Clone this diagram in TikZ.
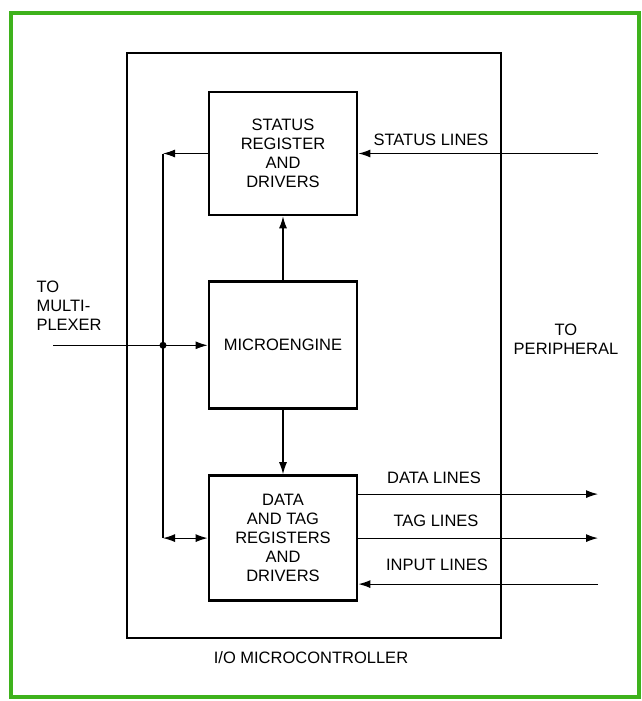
\documentclass[tikz,border=0pt]{standalone}
\usepackage{fontspec}
\setmainfont{Liberation Sans}
\usetikzlibrary{arrows.meta,positioning,calc}

\definecolor{framegreen}{RGB}{62,178,28}

\tikzset{
  blockbox/.style={draw, line width=2.8pt, minimum width=148pt, minimum height=125pt, align=center, inner sep=0pt},
  sigline/.style={line width=1.1pt},
  sigarrow/.style={sigline, -{Latex[length=12pt,width=8pt]}},
  twoway/.style={sigline, {Latex[length=12pt,width=8pt]}-{Latex[length=12pt,width=8pt]}}
}

\begin{document}
\begin{tikzpicture}[x=1pt, y=-1pt, node distance=64pt, every node/.style={font=\fontsize{16.5}{19}\selectfont}]
  \useasboundingbox (0,0) rectangle (641,701);
  \draw[framegreen, line width=3.2pt] (11,13) rectangle (639,697);

  \node[draw, line width=2.2pt, minimum width=374pt, minimum height=585pt] (ioctrl) at (314,345.5) {};
  \node (iolbl) at (311,658) {I/O MICROCONTROLLER};

  \node[blockbox, minimum height=123pt] (status) at (283,153.5) {STATUS\\REGISTER\\AND\\DRIVERS};
  \node[blockbox, below=of status, minimum height=127pt] (micro) {MICROENGINE};
  \node[blockbox, below=of micro] (data) {DATA\\AND TAG\\REGISTERS\\AND\\DRIVERS};

  \coordinate (bus) at (163,0);
  \coordinate (mux) at (53,0);
  \coordinate (periph) at (598,0);
  \coordinate (bustop) at (status.west -| bus);
  \coordinate (busbot) at (data.west -| bus);
  \coordinate (junction) at (micro.west -| bus);

  \draw[sigarrow] (status.west) -- (bustop);
  \draw[sigline] (bustop) -- (busbot);
  \draw[twoway] (busbot) -- (data.west);
  \draw[sigarrow] (micro.west -| mux) -- (micro.west);
  \fill (junction) circle (3.5pt);

  \draw[sigarrow] (micro.north) -- (status.south);
  \draw[sigarrow] (micro.south) -- (data.north);

  \draw[sigarrow] (status.east -| periph) -- (status.east);
  \draw[sigarrow] ([yshift=44pt]data.east) -- ([yshift=44pt]data.east -| periph);
  \draw[sigarrow] (data.east) -- (data.east -| periph);
  \draw[sigarrow] ([yshift=-46pt]data.east -| periph) -- ([yshift=-46pt]data.east);

  \node (statuslbl) at (431,140) {STATUS LINES};
  \node (datalbl) at (434,478) {DATA LINES};
  \node (taglbl) at (436,521) {TAG LINES};
  \node (inputlbl) at (437,565) {INPUT LINES};
  \node[anchor=west, align=left] (muxlbl) at (33,306) {TO\\MULTI-\\PLEXER};
  \node[align=center] (periphlbl) at (566,339) {TO\\PERIPHERAL};
\end{tikzpicture}
\end{document}
